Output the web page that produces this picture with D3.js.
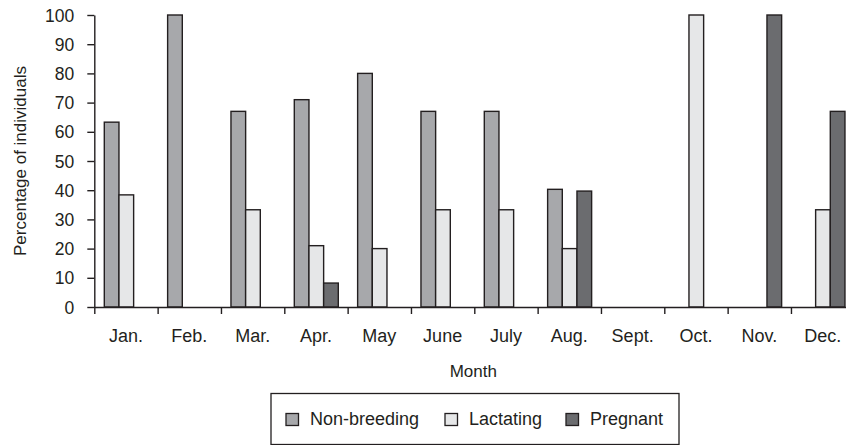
<!DOCTYPE html>
<html>
<head>
<meta charset="utf-8">
<script src="https://cdn.jsdelivr.net/npm/d3@7"></script>
<style>
  html, body { margin: 0; padding: 0; background: #fff; }
  svg { display: block; }
  text { font-family: "Liberation Sans", Arial, Helvetica, sans-serif; fill: #231f20; }
</style>
</head>
<body>
<svg id="chart" width="846" height="445"></svg>
<script>
const months = ["Jan.", "Feb.", "Mar.", "Apr.", "May", "June", "July", "Aug.", "Sept.", "Oct.", "Nov.", "Dec."];
const seriesNames = ["Non-breeding", "Lactating", "Pregnant"];
const nonBreeding = [63.3, 100, 67, 71, 80, 67, 67, 40.3, 0, 0, 0, 0];
const lactating   = [38.4, 0, 33.3, 21, 20, 33.3, 33.3, 20, 0, 100, 0, 33.3];
const pregnant    = [0, 0, 0, 8.2, 0, 0, 0, 39.7, 0, 0, 100, 67];
const yTicks = [0, 10, 20, 30, 40, 50, 60, 70, 80, 90, 100];
const colors = ["#a7a8ab", "#e6e7e8", "#6b6c6f"];

const seriesValues = [nonBreeding, lactating, pregnant];
const svg = d3.select("#chart");
const ink = "#231f20";

const pLeft = 94.3, pRight = 854.3, pTop = 15, pBottom = 307;

const x = d3.scaleBand().domain(months).range([pLeft, pRight]).paddingInner(0).paddingOuter(0);
const xs = d3.scaleBand().domain(seriesNames).range([10, 54]).padding(0);
const y = d3.scaleLinear().domain([0, 100]).range([pBottom, pTop]);
const xIdx = d3.scaleLinear().domain([0, months.length]).range([pLeft, pRight]);

// bars
const groups = svg.append("g").selectAll("g")
  .data(months)
  .join("g")
  .attr("transform", d => `translate(${x(d)},0)`);

groups.selectAll("rect")
  .data((m, i) => seriesNames.map((s, j) => ({ s, v: seriesValues[j][i], c: colors[j] })).filter(d => d.v > 0))
  .join("rect")
  .attr("x", d => xs(d.s))
  .attr("width", xs.bandwidth())
  .attr("y", d => y(d.v))
  .attr("height", d => y(0) - y(d.v))
  .attr("fill", d => d.c)
  .attr("stroke", ink)
  .attr("stroke-width", 1.4);

// y axis
const yAxis = svg.append("g")
  .attr("transform", `translate(${pLeft},0)`)
  .call(d3.axisLeft(y).tickValues(yTicks).tickSize(7).tickPadding(13).tickSizeOuter(0));
yAxis.select(".domain").attr("stroke", ink).attr("stroke-width", 1.4);
yAxis.selectAll(".tick line").attr("stroke", ink).attr("stroke-width", 1.4);
yAxis.selectAll(".tick text").style("font-size", "17.5px").attr("fill", ink).attr("dy", "0.35em");

// x axis tick marks at band boundaries
const xTickAxis = svg.append("g")
  .attr("transform", `translate(0,${pBottom})`)
  .call(d3.axisBottom(xIdx).tickValues(d3.range(0, months.length + 1)).tickSize(7).tickFormat("").tickSizeOuter(0));
xTickAxis.select(".domain").attr("stroke", ink).attr("stroke-width", 1.4);
xTickAxis.selectAll(".tick line").attr("stroke", ink).attr("stroke-width", 1.4);

// x axis labels
const xLab = svg.append("g")
  .attr("transform", `translate(0,${pBottom})`)
  .call(d3.axisBottom(x).tickSize(0).tickPadding(22));
xLab.select(".domain").remove();
xLab.selectAll(".tick text").style("font-size", "18px").attr("fill", ink);

// axis titles
svg.append("text")
  .attr("x", (pLeft + pRight) / 2 - 1)
  .attr("y", 376.5)
  .attr("text-anchor", "middle")
  .style("font-size", "17px")
  .text("Month");

svg.append("text")
  .attr("transform", `translate(26,${(pTop + pBottom) / 2}) rotate(-90)`)
  .attr("text-anchor", "middle")
  .style("font-size", "17px")
  .text("Percentage of individuals");

// legend
svg.append("rect")
  .attr("x", 271).attr("y", 393.5)
  .attr("width", 408).attr("height", 51)
  .attr("fill", "none").attr("stroke", ink).attr("stroke-width", 1.3);

const legendX = [286, 445, 566];
const lg = svg.append("g").selectAll("g")
  .data(seriesNames)
  .join("g")
  .attr("transform", (d, i) => `translate(${legendX[i]},0)`);
lg.append("rect")
  .attr("x", 0).attr("y", 413.5)
  .attr("width", 12.5).attr("height", 12)
  .attr("fill", (d, i) => colors[i])
  .attr("stroke", ink).attr("stroke-width", 1.3);
lg.append("text")
  .attr("x", 24).attr("y", 424.5)
  .style("font-size", "18px")
  .text(d => d);
</script>
</body>
</html>
